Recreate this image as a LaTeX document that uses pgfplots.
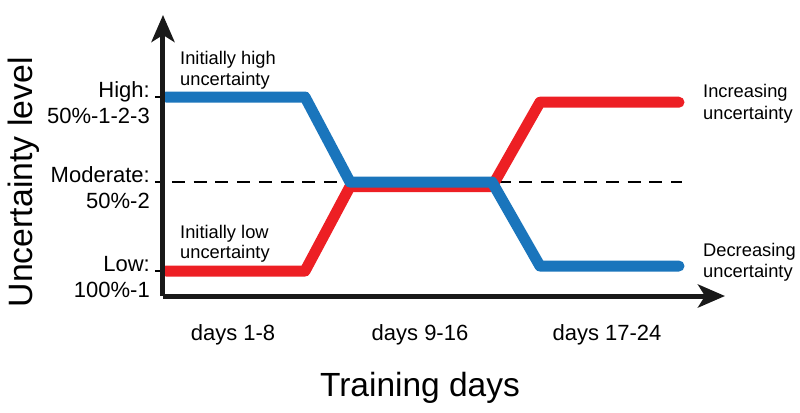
\documentclass[border=0pt]{standalone}
\usepackage{pgfplots}
\pgfplotsset{compat=1.18}
\usepackage{fontspec}
\setmainfont{Liberation Sans}
\usetikzlibrary{arrows.meta}
\definecolor{cred}{HTML}{ED1F24}
\definecolor{cblue}{HTML}{1A75BC}
\begin{document}
\begin{tikzpicture}
\begin{axis}[
  x=1bp, y=87bp,
  xmin=0, xmax=562, ymin=0.7126, ymax=3.943,
  axis lines=left,
  axis on top,
  axis line style={line width=5bp, black!90, -{Stealth[length=27bp,width=23bp,inset=7bp]}},
  clip=false,
  xtick={70,257,444},
  xticklabels={days 1-8, days 9-16, days 17-24},
  ytick={1,2.023,3},
  yticklabels={{Low:\\100\%-1},{Moderate:\\50\%-2},{High:\\50\%-1-2-3}},
  tick align=outside,
  major tick length=8bp,
  x tick style={draw=none},
  y tick style={line width=1.5bp, black},
  yticklabel style={font=\fontsize{22bp}{26.5bp}\selectfont, align=right, anchor=base east, inner sep=0pt, yshift=-26.5bp, xshift=-5bp},
  xticklabel style={font=\fontsize{22bp}{26bp}\selectfont, anchor=base, inner sep=0pt, yshift=-36bp},
  xlabel={Training days},
  ylabel={Uncertainty level},
  xlabel style={font=\fontsize{33.5bp}{40bp}\selectfont, at={(axis cs:257,-0.437)}, anchor=base, inner sep=0pt},
  ylabel style={font=\fontsize{33.8bp}{40bp}\selectfont, at={(axis cs:-130,2.02)}, anchor=base, inner sep=0pt},
]
\path (axis cs:-163,-0.632) rectangle (axis cs:637,4.115);
\addplot[black, line width=1.3bp, dash pattern=on 13bp off 8.7bp] coordinates {(9,2.023) (519,2.023)};
\addplot[cred, line width=11bp, line cap=round, line join=round] coordinates {(3,1) (142,1) (187,1.97) (329,1.97) (377,2.94) (516,2.94)};
\addplot[cblue, line width=11bp, line cap=round, line join=round] coordinates {(3,3) (142,3) (187,2.023) (329,2.023) (377,1.057) (516,1.057)};
\begin{scope}[every node/.style={font=\fontsize{18.3bp}{21bp}\selectfont, inner sep=0pt, anchor=base west}]
\node at (axis cs:17,3.368) {Initially high};
\node at (axis cs:17,3.138) {uncertainty};
\node at (axis cs:17,1.379) {Initially low};
\node at (axis cs:17,1.149) {uncertainty};
\node at (axis cs:540,2.989) {Increasing};
\node at (axis cs:540,2.747) {uncertainty};
\node at (axis cs:540,1.172) {Decreasing};
\node at (axis cs:540,0.931) {uncertainty};
\end{scope}
\end{axis}
\end{tikzpicture}
\end{document}
